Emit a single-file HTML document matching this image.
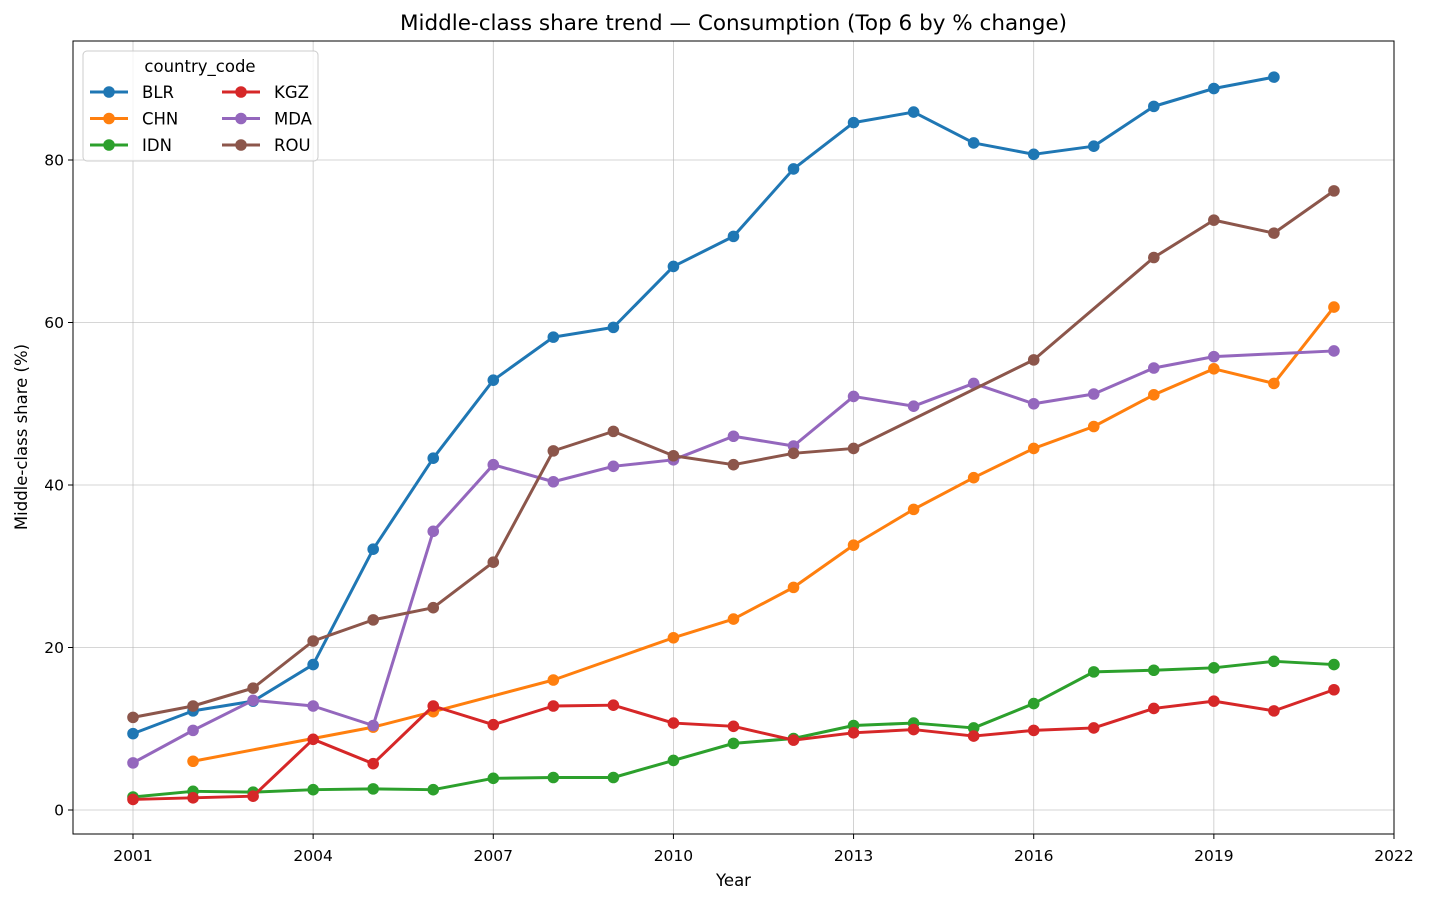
<!DOCTYPE html>
<html><head><meta charset="utf-8"><style>
body{margin:0;background:#fff;font-family:"Liberation Sans","DejaVu Sans",sans-serif;}
svg text{font-family:"DejaVu Sans","Liberation Sans",sans-serif;}
</style></head><body>
<svg id="chart" width="1430" height="907" xmlns="http://www.w3.org/2000/svg"></svg>
<script>
const years=[2001,2002,2003,2004,2005,2006,2007,2008,2009,2010,2011,2012,2013,2014,2015,2016,2017,2018,2019,2020,2021];
const seriesNames=["BLR","CHN","IDN","KGZ","MDA","ROU"];
const seriesColors=["#1f77b4","#ff7f0e","#2ca02c","#d62728","#9467bd","#8c564b"];
const blr=[9.4,12.2,13.4,17.9,32.1,43.3,52.9,58.2,59.4,66.9,70.6,78.9,84.6,85.9,82.1,80.7,81.7,86.6,88.8,90.2,null];
const chn=[null,6.0,null,null,10.2,12.1,null,16.0,null,21.2,23.5,27.4,32.6,37.0,40.9,44.5,47.2,51.1,54.3,52.5,61.9];
const idn=[1.6,2.3,2.2,2.5,2.6,2.5,3.9,4.0,4.0,6.1,8.2,8.8,10.4,10.7,10.1,13.1,17.0,17.2,17.5,18.3,17.9];
const kgz=[1.3,1.5,1.7,8.7,5.7,12.8,10.5,12.8,12.9,10.7,10.3,8.6,9.5,9.9,9.1,9.8,10.1,12.5,13.4,12.2,14.8];
const mda=[5.8,9.8,13.5,12.8,10.4,34.3,42.5,40.4,42.3,43.1,46.0,44.8,50.9,49.7,52.5,50.0,51.2,54.4,55.8,null,56.5];
const rou=[11.4,12.8,15.0,20.8,23.4,24.9,30.5,44.2,46.6,43.6,42.5,43.9,44.5,null,null,55.4,null,68.0,72.6,71.0,76.2];
const xTicks=[2001,2004,2007,2010,2013,2016,2019,2022];
const yTicks=[0,20,40,60,80];
const allSeries=[blr,chn,idn,kgz,mda,rou];

const NS="http://www.w3.org/2000/svg";
const svg=document.getElementById('chart');
const L=73,R=1394,T=41,B=834;
const x=v=>133+(v-2001)*(1394-133)/21;
const y=v=>810-v*(810-160)/80;
function mk(tag,attrs,parent){const e=document.createElementNS(NS,tag);for(const k in attrs)e.setAttribute(k,attrs[k]);(parent||svg).appendChild(e);return e;}

xTicks.forEach(t=>{
  const g=mk('line',{x1:x(t),x2:x(t),y1:T,y2:B,stroke:'#b0b0b0','stroke-width':0.8,opacity:0.7});
  
  
  mk('line',{x1:x(t),x2:x(t),y1:B,y2:B+5,stroke:'#000'});
  const tx=mk('text',{x:x(t),y:B+27,'text-anchor':'middle','font-size':15.5});
  tx.textContent=t;
  
  
});
yTicks.forEach(t=>{
  const g=mk('line',{x1:L,x2:R,y1:y(t),y2:y(t),stroke:'#b0b0b0','stroke-width':0.8,opacity:0.7});
  
  
  mk('line',{x1:L-5,x2:L,y1:y(t),y2:y(t),stroke:'#000'});
  const tx=mk('text',{x:L-9,y:y(t)+5.5,'text-anchor':'end','font-size':15.5});
  tx.textContent=t;
  
  
});

allSeries.forEach((s,i)=>{
  const pts=[];s.forEach((v,j)=>{if(v!==null)pts.push([x(years[j]),y(v)]);});
  const p=mk('polyline',{points:pts.map(p=>p.join(',')).join(' '),fill:'none',stroke:seriesColors[i],'stroke-width':3,'stroke-linejoin':'round'});
  
  
  pts.forEach(q=>{
    const c=mk('circle',{cx:q[0],cy:q[1],r:5.8,fill:seriesColors[i]});
    
    
  });
});

const frame=mk('rect',{x:L,y:T,width:R-L,height:B-T,fill:'none',stroke:'#000','stroke-width':1});



const title=mk('text',{x:(L+R)/2,y:30,'text-anchor':'middle','font-size':21.5});
title.textContent='Middle-class share trend — Consumption (Top 6 by % change)';


const xt=mk('text',{x:(L+R)/2,y:886,'text-anchor':'middle','font-size':16.5});
xt.textContent='Year';


const yt=mk('text',{x:0,y:0,'text-anchor':'middle','font-size':16.5,transform:'translate(27,437) rotate(-90)'});
yt.textContent='Middle-class share (%)';



const lg=mk('g',{});


mk('rect',{x:83,y:51,width:235,height:110,rx:4,fill:'#fff',stroke:'#ccc','fill-opacity':0.8},lg);
const lt=mk('text',{x:200,y:72,'text-anchor':'middle','font-size':16.5},lg);
lt.textContent='country_code';
seriesNames.forEach((n,i)=>{
  const col=Math.floor(i/3),row=i%3;
  const lx=90+col*132,ly=92+row*26.5;
  const e=mk('g',{},lg);
  
  
  mk('line',{x1:lx,x2:lx+38,y1:ly,y2:ly,stroke:seriesColors[i],'stroke-width':3},e);
  mk('circle',{cx:lx+19,cy:ly,r:5.8,fill:seriesColors[i]},e);
  const t=mk('text',{x:lx+52,y:ly+6,'font-size':16.5},e);t.textContent=n;
});
</script>
</body></html>
